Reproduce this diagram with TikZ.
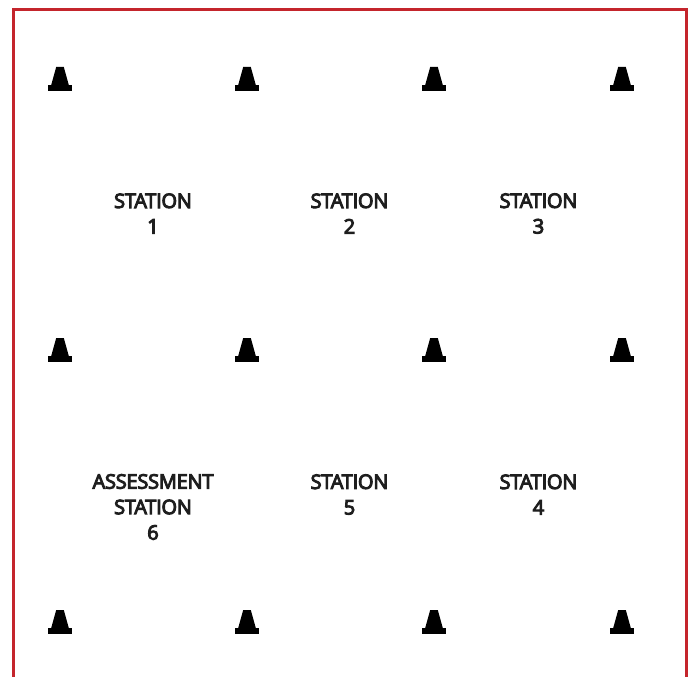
\documentclass[tikz,border=0pt]{standalone}
\usepackage{fontspec}
\setmainfont{Open Sans}
\usepackage{xcolor}
\usetikzlibrary{positioning}
\definecolor{FieldRed}{HTML}{C4252C}
\definecolor{LabelInk}{HTML}{1E1E1E}

\begin{document}
\begin{tikzpicture}[
  x=1pt, y=-1pt,
  stationlabel/.style={
    align=center,
    inner sep=0pt,
    text=LabelInk,
    font=\fontsize{20}{25.5}\selectfont\addfontfeature{FakeBold=5,LetterSpace=-1.2}
  },
  fieldline/.style={draw=FieldRed, line width=3pt, line join=miter},
  conepic/.pic={
    \fill[black] (-12,-6) rectangle (12,0);
    \fill[black] (-8.8,-6) -- (-3.8,-24) -- (3.8,-24) -- (8.8,-6) -- cycle;
  }
]
\useasboundingbox (0,0) rectangle (688,677);
% field outline
\coordinate (fieldBL) at (13,677);
\coordinate (fieldTL) at (13,10);
\coordinate (fieldTR) at (686,10);
\coordinate (fieldBR) at (686,677);
\draw[fieldline] (fieldBL) -- (fieldTL) -- (fieldTR) -- (fieldBR);
% cones
\foreach \conex in {60,247,434,622}
  \foreach \coney in {91,362,634}
    \pic at (\conex,\coney) {conepic};
% stations
\node[stationlabel] (st1) at (153,213.5) {STATION\\1};
\node[stationlabel] (st2) at (349.5,213.5) {STATION\\2};
\node[stationlabel] (st3) at (538.5,213.5) {STATION\\3};
\node[stationlabel] (st6) at (153,507) {ASSESSMENT\\STATION\\6};
\node[stationlabel] (st5) at (349.5,494.5) {STATION\\5};
\node[stationlabel] (st4) at (538.5,494.5) {STATION\\4};
\end{tikzpicture}
\end{document}
